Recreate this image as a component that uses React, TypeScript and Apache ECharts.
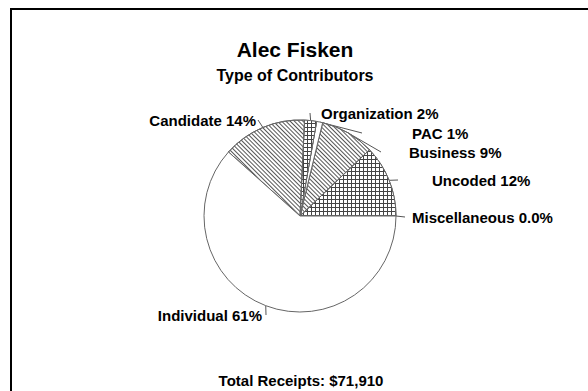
import React, { useEffect, useRef } from "react";
import * as echarts from "echarts";

// Contributor types, counter-clockwise from 3 o'clock
const categories = ["Miscellaneous", "Uncoded", "Business", "PAC", "Organization", "Candidate", "Individual"];
const shares = [0, 12, 9, 1, 2, 14, 61];
const shareLabels = ["0.0%", "12%", "9%", "1%", "2%", "14%", "61%"];
const fillKinds = ["plain", "grid", "hatch", "plain", "grid", "hatch", "plain"];

const chartTitle = "Alec Fisken";
const chartSubtitle = "Type of Contributors";
const footerText = "Total Receipts: $71,910";

// Label placement: [text edge x, centre y, align, gap between leader end and text]
const labelSpots: [number, number, "left" | "right", number][] = [
  [412, 217, "left", 7],
  [432, 180, "left", 34],
  [409, 152, "left", 28],
  [412, 133, "left", 50],
  [321, 113, "left", 11],
  [256, 120, "right", 2],
  [262, 315, "right", 4],
];

const FONT = "'Liberation Sans', Arial, sans-serif";

const hatchDecal = {
  symbol: "rect",
  symbolSize: 1,
  color: "#555",
  dashArrayX: [1, 0],
  dashArrayY: [1, 2],
  rotation: Math.PI / 4,
};

// white cells over a dark fill leave a grid of thin lines
const gridDecal = {
  symbol: "rect",
  symbolSize: 1,
  color: "#fff",
  dashArrayX: [3, 1],
  dashArrayY: [3, 1],
  rotation: 0,
};

export default function App() {
  const ref = useRef<HTMLDivElement>(null);

  useEffect(() => {
    if (!ref.current) return;
    const chart = echarts.init(ref.current, undefined, { renderer: "svg" });

    const data = categories.map((name, i) => {
      const kind = fillKinds[i];
      const item: any = { name, value: shares[i], itemStyle: { color: "#fff" } };
      if (kind === "hatch") item.itemStyle.decal = hatchDecal;
      if (kind === "grid") {
        item.itemStyle.color = "#444";
        item.itemStyle.decal = gridDecal;
      }
      const spot = labelSpots[i];
      item.label = {
        padding: spot[2] === "left" ? [0, 0, 0, spot[3]] : [0, spot[3], 0, 0],
      };
      return item;
    });

    chart.setOption({
      animation: false,
      backgroundColor: "#fff",
      graphic: [
        {
          type: "polyline",
          shape: { points: [[11, 420], [11, 9], [620, 9]] },
          style: { fill: "none", stroke: "#000", lineWidth: 2 },
          silent: true,
        },
        {
          type: "text",
          x: 295,
          y: 49,
          style: {
            text: chartTitle,
            font: `bold 21px ${FONT}`,
            fill: "#000",
            align: "center",
            verticalAlign: "middle",
          },
        },
        {
          type: "text",
          x: 295,
          y: 75,
          style: {
            text: chartSubtitle,
            font: `bold 16px ${FONT}`,
            fill: "#000",
            align: "center",
            verticalAlign: "middle",
          },
        },
        {
          type: "text",
          x: 301,
          y: 380,
          style: {
            text: footerText,
            font: `bold 15px ${FONT}`,
            fill: "#000",
            align: "center",
            verticalAlign: "middle",
          },
        },
      ],
      series: [
        {
          type: "pie",
          center: [300, 216],
          radius: 96,
          startAngle: 0,
          clockwise: false,
          avoidLabelOverlap: false,
          itemStyle: { borderColor: "#666", borderWidth: 1 },
          label: {
            show: true,
            formatter: (p: any) => `${p.name} ${shareLabels[p.dataIndex]}`,
            fontFamily: FONT,
            fontWeight: "bold",
            fontSize: 15,
            color: "#000",
            // invisible box so the padding counts toward the label's extent
            backgroundColor: "rgba(255,255,255,0)",
          },
          labelLine: {
            show: true,
            length: 8,
            length2: 0,
            lineStyle: { color: "#555", width: 1 },
          },
          labelLayout: (params: any) => {
            const spot = labelSpots[params.dataIndex];
            const gap = spot[3];
            return {
              x: spot[2] === "left" ? spot[0] - gap : spot[0] + gap,
              y: spot[1],
              align: spot[2],
              verticalAlign: "middle",
            };
          },
          emphasis: { disabled: true },
          data,
        },
      ],
    });

    return () => chart.dispose();
  }, []);

  return (
    <div
      ref={ref}
      style={{ position: "fixed", left: 0, top: 0, width: 588, height: 391, background: "#fff" }}
    />
  );
}
